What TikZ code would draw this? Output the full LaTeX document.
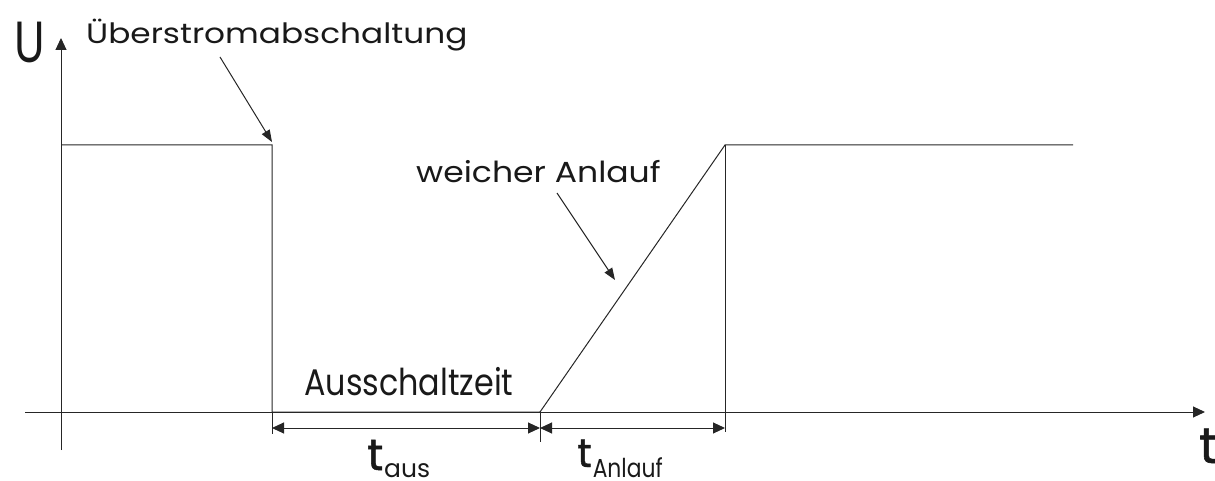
\documentclass[tikz,border=0pt]{standalone}
\usepackage{graphicx}
\usepackage{fontspec}
\setmainfont{Poppins}
\newfontfamily\tfont{Poppins}[FakeBold=1.2]
\usetikzlibrary{arrows.meta}
\newcommand{\fs}[1]{\fontsize{#1}{#1}\selectfont}
\newcommand{\hs}[2]{\scalebox{#1}[1]{#2}}
\begin{document}
\begin{tikzpicture}[x=1pt,y=-1pt,
  ln/.style={line width=1pt, draw=black!85},
  arr/.style={ln, -{Triangle[length=12pt,width=11pt]}},
  darr/.style={ln, {Triangle[length=12pt,width=11pt]}-{Triangle[length=12pt,width=11pt]}},
  ann/.style={ln, -{Triangle[length=12pt,width=9pt]}},
  lbl/.style={inner sep=0pt, anchor=base west, text=black!90}]
\useasboundingbox (0,0) rectangle (1215,481);
% axes
\coordinate (ybot) at (61,450);
\coordinate (ytop) at (61,38);
\coordinate (xl) at (25,412);
\coordinate (xr) at (1205,412);
\draw[arr] (ybot) -- (ytop);
\draw[arr] (xl) -- (xr);
% signal
\coordinate (A) at (61,145);
\coordinate (B) at (272,145);
\coordinate (C) at (272,412);
\coordinate (D) at (540,412);
\coordinate (E) at (725,145);
\coordinate (F) at (1073,145);
\draw[ln] (A) -- (B) -- (C) -- (D) -- (E) -- (F);
% extension lines
\coordinate (Cx) at (272,434);
\coordinate (Dx) at (540,442);
\coordinate (Ex) at (725,432);
\draw[ln] (C) -- (Cx);
\draw[ln] (D) -- (Dx);
\draw[ln] (E) -- (Ex);
% dimension lines
\coordinate (d1) at (272,428);
\coordinate (d2) at (540,428);
\coordinate (d3) at (725,428);
\draw[darr] (d1) -- (d2);
\draw[darr] (d2) -- (d3);
% labels
\node[lbl] (U) at (14,63) {\hs{0.78}{\fs{58}U}};
\node[lbl] (ueb) at (86,44) {\hs{1.17}{\fs{28}Überstromabschaltung}};
\node[lbl] (wa) at (416,183) {\hs{1.14}{\fs{29}weicher Anlauf}};
\node[lbl] (aus) at (304,395) {\hs{0.86}{\fs{37}Ausschaltzeit}};
\node[lbl] (taus) at (367,470) {\fs{44}\tfont t\kern1pt\raisebox{-7pt}{\fs{25}\rmfamily aus}};
\node[lbl] (tanl) at (577,467) {\fs{40}\tfont t\kern1pt\raisebox{-10pt}{\hs{0.84}{\fs{26}\rmfamily Anlauf}}};
\node[lbl] (tt) at (1199,463) {\fs{50}\tfont t};
% annotation arrows
\coordinate (a1s) at (220,57);
\coordinate (a1e) at (272,142);
\coordinate (a2s) at (557,193);
\coordinate (a2e) at (615,280);
\draw[ann] (a1s) -- (a1e);
\draw[ann] (a2s) -- (a2e);
\end{tikzpicture}
\end{document}
